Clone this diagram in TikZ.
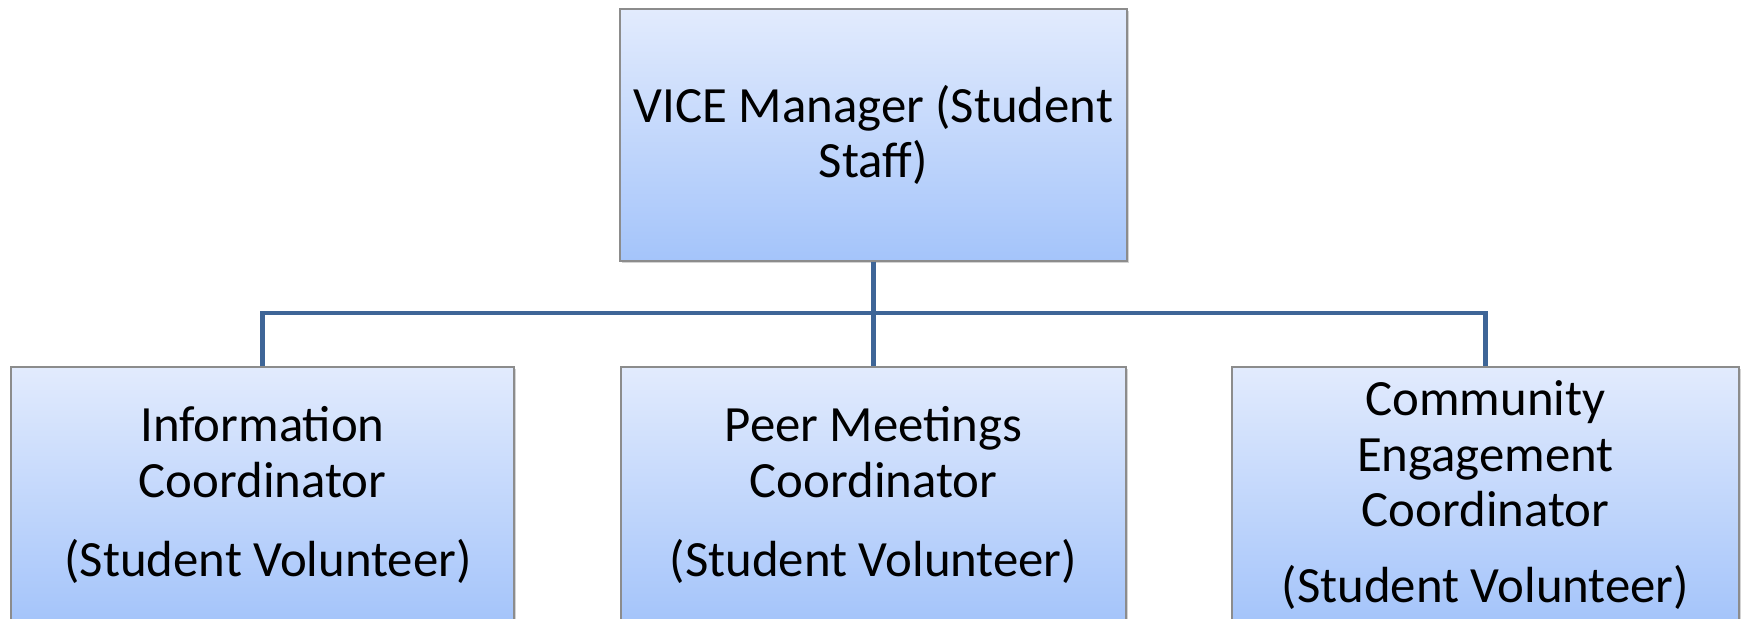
\documentclass[tikz,border=0pt]{standalone}
\usepackage{fontspec}
\setmainfont{Carlito}
\usetikzlibrary{shadows}
\definecolor{boxtop}{RGB}{226,235,253}
\definecolor{boxbot}{RGB}{164,196,250}
\definecolor{boxedge}{RGB}{140,140,140}
\definecolor{conncol}{RGB}{62,101,151}
\tikzset{
  orgbox/.style={rectangle, draw=boxedge, line width=0.6pt, top color=boxtop, bottom color=boxbot,
    align=center, inner sep=0pt, font=\fontsize{25.4}{27.8}\selectfont,
    drop shadow={shadow xshift=1.2pt, shadow yshift=-1.2pt, opacity=0.35}},
  conn/.style={draw=conncol, line width=2.4pt}
}
\begin{document}
\begin{tikzpicture}[x=0.5pt,y=-0.5pt]
\useasboundingbox (0,0) rectangle (1741,618);
\begin{scope}
\clip (0,0) rectangle (1741,618);
\node[orgbox, minimum width=253.5pt, minimum height=126pt] (top) at (873.5,135) {VICE Manager (Student\\Staff)};
\node[orgbox, minimum width=251.5pt, minimum height=128pt] (b1) at (262.5,495) {Information\\Coordinator\\[12pt]\hspace*{5.6pt}(Student Volunteer)};
\node[orgbox, minimum width=252.5pt, minimum height=128pt] (b2) at (873.5,495) {Peer Meetings\\Coordinator\\[12pt](Student Volunteer)};
\node[orgbox, minimum width=253.5pt, minimum height=128pt] (b3) at (1485.5,495) {Community\\Engagement\\Coordinator\\[10pt](Student Volunteer)};
\coordinate (bus) at (873.5,313);
\draw[conn] (top.south) -- (bus);
\draw[conn] (b1.north) |- (bus) -| (b3.north);
\draw[conn] (bus) -- (b2.north);
\end{scope}
\end{tikzpicture}
\end{document}
